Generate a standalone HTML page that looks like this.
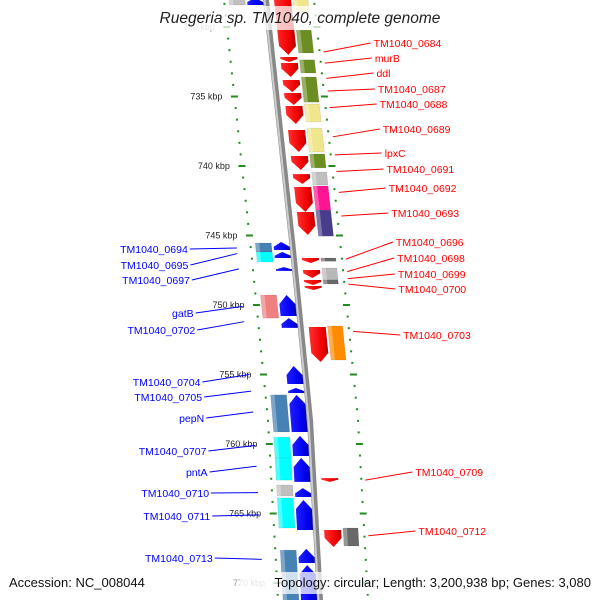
<!DOCTYPE html>
<html><head><meta charset="utf-8"><style>
body{margin:0;background:#fff;}
svg{display:block;font-family:"Liberation Sans",sans-serif;}
</style></head><body>
<svg id="c" width="600" height="600" viewBox="0 0 600 600">
<defs>
<linearGradient id="gr" x1="0" x2="1"><stop offset="0" stop-color="#ff3030"/><stop offset="0.7" stop-color="#f00000"/><stop offset="1" stop-color="#b00000"/></linearGradient>
<linearGradient id="gbl" x1="0" x2="1"><stop offset="0" stop-color="#2020ff"/><stop offset="0.7" stop-color="#0000f0"/><stop offset="1" stop-color="#0000a0"/></linearGradient>
</defs>
<g id="ticks"></g>
<g id="genes"></g>
<g id="labels"></g>
<rect x="155" y="6" width="290" height="24" fill="#fff" opacity="0.75"/>
<text x="300" y="23" text-anchor="middle" font-size="15.5" font-style="italic" fill="#222">Ruegeria sp. TM1040, complete genome</text>
<rect x="240" y="572" width="355" height="22" fill="#fff" opacity="0.75"/>
<text x="9" y="587" font-size="13" fill="#111">Accession: NC_008044</text>
<text x="591" y="587" font-size="13" text-anchor="end" fill="#111">Topology: circular; Length: 3,200,938 bp; Genes: 3,080</text>
</svg>
<script>
const tickKbp=[730,735,740,745,750,755,760,765,770];
const redStart=[728.0,732.16,732.59,733.81,734.75,735.68,737.41,739.28,740.58,741.51,743.31,746.62,747.48,748.2,748.63,751.58,762.45,766.19];
const redEnd=[732.01,732.52,733.6,734.68,735.61,736.98,738.99,740.29,741.29,743.31,744.96,746.98,748.06,748.56,748.92,754.1,762.73,767.41];
const blueStart=[727.9,745.47,746.19,747.27,749.28,750.94,754.39,755.97,756.47,759.42,761.01,763.17,764.03,767.55,768.71];
const blueEnd=[728.42,746.04,746.62,747.55,750.79,751.65,755.68,756.33,759.14,760.86,762.73,763.81,766.19,768.56,771.3];
const rBoxStart=[727.9,730.22,732.37,733.6,735.54,737.27,739.14,740.43,741.44,743.17,746.62,747.34,748.2,751.51,766.04];
const rBoxEnd=[728.92,731.87,733.31,735.4,736.83,738.99,740.14,741.37,743.17,745.04,746.85,748.2,748.49,753.96,767.34];
const rBoxColor=["#f0e68c","#6b8e23","#6b8e23","#6b8e23","#f0e68c","#f0e68c","#6b8e23","#c0c0c0","#ff1493","#483d8b","#696969","#b8b8b8","#696969","#ff8c00","#696969"];
const lBoxStart=[727.9,745.54,746.19,749.28,756.47,759.5,761.0,762.95,763.88,767.63];
const lBoxEnd=[728.42,746.19,746.91,750.94,759.14,761.0,762.6,763.74,766.04,771.3];
const lBoxColor=["#c0c0c0","#4682b4","#00ffff","#f08080","#4682b4","#00ffff","#00ffff","#c0c0c0","#00ffff","#4682b4"];
const redNames=["TM1040_0684","murB","ddl","TM1040_0687","TM1040_0688","TM1040_0689","lpxC","TM1040_0691","TM1040_0692","TM1040_0693","TM1040_0696","TM1040_0698","TM1040_0699","TM1040_0700","TM1040_0703","TM1040_0709","TM1040_0712"];
const redLabelY=[43,58,73,89,104,129,153,169,188,213,242,258,274,289,335,472,531];
const redGeneKbp=[731.8,732.6,733.7,734.6,735.8,737.9,739.2,740.4,741.9,743.6,746.7,747.6,748.1,748.5,751.9,762.6,766.6];
const blueNames=["TM1040_0694","TM1040_0695","TM1040_0697","gatB","TM1040_0702","TM1040_0704","TM1040_0705","pepN","TM1040_0707","pntA","TM1040_0710","TM1040_0711","TM1040_0713"];
const blueLabelY=[249,265,280,313,330,382,397,418,451,472,493,516,558];
const blueGeneKbp=[745.9,746.3,747.4,750.1,751.2,755.0,756.2,757.7,760.1,761.6,763.5,765.1,768.3];

const NS="http://www.w3.org/2000/svg";
function yOf(k){return 27+(k-730)*13.9;}
const bp=[[0,266],[250,293],[420,310],[600,320]];
function bx(y){
  if(y<=bp[0][0])return bp[0][1]+(y-bp[0][0])*0.11;
  for(let i=1;i<bp.length;i++){if(y<=bp[i][0]){const a=bp[i-1],b=bp[i];return a[1]+(b[1]-a[1])*(y-a[0])/(b[0]-a[0]);}}
  return 320+(y-600)*0.055;
}
function mk(tag,attrs,parent){const e=document.createElementNS(NS,tag);for(const k in attrs)e.setAttribute(k,attrs[k]);parent.appendChild(e);return e;}
const gT=document.getElementById('ticks'),gG=document.getElementById('genes'),gL=document.getElementById('labels');

let d="";for(let y=-5;y<=605;y+=5){d+=(y==-5?"M":"L")+bx(y).toFixed(1)+","+y;}
const bb=mk('path',{d:d,stroke:'#888',"stroke-width":6,fill:'none'},gG);


mk('path',{d:d,stroke:'#ccc',"stroke-width":2,fill:'none',transform:'translate(-1.5,0)'},gG);

for(let i=-3;i<=50;i++){
  const k=730+i*5/6;
  const y=yOf(k);if(y<-5||y>605)continue;
  const major=i%6===0;
  const w=major?7:2;
  for(const off of [-42,48]){
    const t=mk('line',{x1:bx(y)+off-w/2,y1:y,x2:bx(y)+off+w/2,y2:y,stroke:'#228B22',"stroke-width":2},gT);
    
    
  }
}
tickKbp.forEach(k=>{
  const y=yOf(k);
  const t=mk('text',{x:bx(y)-54,y:y+3,"font-size":9,"text-anchor":"end",fill:k==730||k==770?'#999':'#222'},gT);
  t.textContent=k+" kbp";
  
  
});

function arrow(s,e,o1,o2,down,fill,name){
  const y1=yOf(s),y2=yOf(e);const L=y2-y1;const h=Math.min(9,L*0.6);
  let pts;
  const m=(o1+o2)/2;
  if(down){const yb=y2-h;pts=[[bx(y1)+o1,y1],[bx(y1)+o2,y1],[bx(yb)+o2,yb],[bx(y2)+m,y2],[bx(yb)+o1,yb]];}
  else{const yt=y1+h;pts=[[bx(y1)+m,y1],[bx(yt)+o2,yt],[bx(y2)+o2,y2],[bx(y2)+o1,y2],[bx(yt)+o1,yt]];}
  const p=mk('polygon',{points:pts.map(q=>q[0].toFixed(1)+","+q[1].toFixed(1)).join(" "),fill:fill},gG);
  
  
}
function box(s,e,o1,o2,col,name){
  const y1=yOf(s),y2=yOf(e);
  const pts=[[bx(y1)+o1,y1],[bx(y1)+o2,y1],[bx(y2)+o2,y2],[bx(y2)+o1,y2]];
  const p=mk('polygon',{points:pts.map(q=>q[0].toFixed(1)+","+q[1].toFixed(1)).join(" "),fill:col,stroke:'rgba(0,0,0,0.15)',"stroke-width":0.5},gG);
  
  
  mk('polygon',{points:[[bx(y1)+o1,y1],[bx(y1)+o1+4,y1],[bx(y2)+o1+4,y2],[bx(y2)+o1,y2]].map(q=>q.join(",")).join(" "),fill:'rgba(255,255,255,0.3)'},gG);
}
redStart.forEach((s,i)=>arrow(s,redEnd[i],8,25,true,'url(#gr)','forward-gene-arrow'));
blueStart.forEach((s,i)=>arrow(s,blueEnd[i],-19,-3,false,'url(#gbl)','reverse-gene-arrow'));
rBoxStart.forEach((s,i)=>box(s,rBoxEnd[i],27,42,rBoxColor[i],'forward-gene-category-box'));
lBoxStart.forEach((s,i)=>box(s,lBoxEnd[i],-37,-21,lBoxColor[i],'reverse-gene-category-box'));

redNames.forEach((n,i)=>{
  const gy=yOf(redGeneKbp[i]);const x1=bx(gy)+52;const ly=redLabelY[i];const x2=x1+47;
  const l=mk('line',{x1:x1,y1:gy,x2:x2,y2:ly,stroke:'#f00',"stroke-width":1},gL);
  
  
  const t=mk('text',{x:x2+3,y:ly+4,"font-size":10.5,fill:'#f00'},gL);
  t.textContent=n;
  
  
});
blueNames.forEach((n,i)=>{
  const gy=yOf(blueGeneKbp[i]);const x2=bx(gy)-56;const ly=blueLabelY[i];const x1=x2-47;
  const l=mk('line',{x1:x1,y1:ly,x2:x2,y2:gy,stroke:'#00f',"stroke-width":1},gL);
  
  
  const t=mk('text',{x:x1-2,y:ly+4,"font-size":10.5,"text-anchor":"end",fill:'#00f'},gL);
  t.textContent=n;
  
  
});
</script>
</body></html>
